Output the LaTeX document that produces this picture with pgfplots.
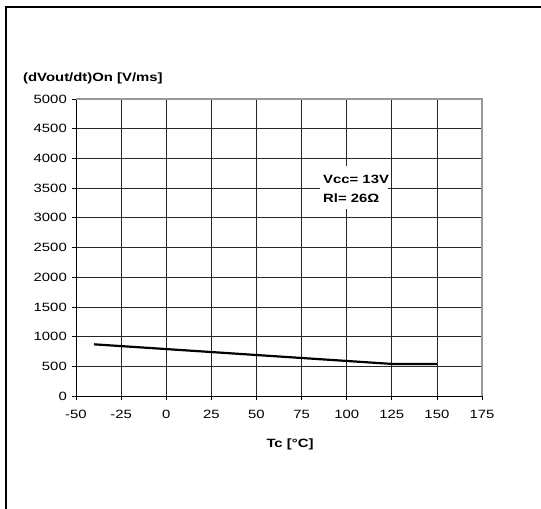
\documentclass[border=0pt]{standalone}
\usepackage{fontspec}
\setmainfont{Liberation Sans}[FakeStretch=1.24]
\usepackage{pgfplots}
\pgfplotsset{compat=1.18}
\begin{document}
\fontsize{12bp}{14bp}\selectfont
\begin{tikzpicture}
\useasboundingbox (-76bp,-113bp) rectangle (465bp,396bp);
\begin{axis}[
  scale only axis, width=406bp, height=297bp,
  xmin=-50, xmax=175, ymin=0, ymax=5000,
  xtick={-50,-25,...,175}, ytick={0,500,...,5000},
  axis x line=bottom, axis y line=left,
  axis line style={-, black, line width=0.8bp},
  grid=major, grid style={black!85, line width=0.6bp},
  tick align=outside, major tick length=4bp,
  tick style={black, line width=0.6bp},
  scaled y ticks=false,
  /pgf/number format/assume math mode=true,
  /pgf/number format/1000 sep={},
  tick label style={font=\fontsize{12bp}{14bp}\selectfont},
  xticklabel style={yshift=-6bp},
  yticklabel style={xshift=-1bp},
  clip=false,
]
\addplot[black, line width=2.2bp] coordinates {(-40,870) (0,790) (25,740) (50,690) (75,640) (100,590) (125,540) (150,540)};
\draw[black!40, line width=1.3bp] (rel axis cs:0,1) -- (rel axis cs:1,1) -- (rel axis cs:1,0);
\end{axis}
\node[anchor=base west, font=\bfseries, inner sep=0pt] at (-53bp,314bp) {(dVout/dt)On [V/ms]};
\node[anchor=base, font=\bfseries, inner sep=0pt] at (214bp,-51.5bp) {Tc [°C]};
\fill[white] (244bp,187bp) rectangle (312bp,230bp);
\node[anchor=base west, font=\bfseries, inner sep=0pt] at (247bp,212.7bp) {Vcc= 13V};
\node[anchor=base west, font=\bfseries, inner sep=0pt] at (247bp,193.3bp) {Rl= 26Ω};
\draw[black, line width=2bp] (-70bp,-113bp) -- (-70bp,389bp) -- (465bp,389bp);
\end{tikzpicture}
\end{document}
